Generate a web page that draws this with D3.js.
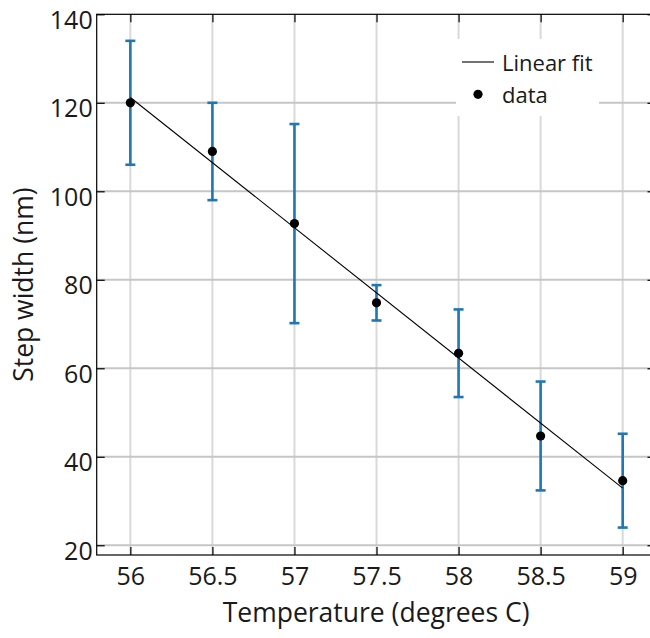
<!DOCTYPE html>
<html>
<head>
<meta charset="utf-8">
<script src="https://cdn.jsdelivr.net/npm/d3@7"></script>
<style>
  html, body { margin: 0; padding: 0; background: #fff; }
  svg { display: block; font-family: "Open Sans", sans-serif; }
</style>
</head>
<body>
<svg id="chart" width="650" height="638"></svg>
<script>
// Measured step widths with their uncertainties at each temperature
const temperatures = [56, 56.5, 57, 57.5, 58, 58.5, 59];
const stepWidths   = [120, 109, 92.7, 74.8, 63.4, 44.7, 34.6];
const stepErrors   = [14, 11, 22.5, 4, 9.9, 12.3, 10.6];

// Linear fit evaluated at the ends of the temperature range
const fitTemps  = [56, 59];
const fitWidths = [121.2, 32.9];

const xTicks = [56, 56.5, 57, 57.5, 58, 58.5, 59];
const yTicks = [20, 40, 60, 80, 100, 120, 140];
const legendLabels = ["Linear fit", "data"];

const xTitle = "Temperature (degrees C)";
const yTitle = "Step width (nm)";

const svg = d3.select("#chart");

const plot = { left: 96.7, right: 655.5, top: 14.3, bottom: 555 };

const x = d3.scaleLinear().domain([55.795, 59.2]).range([plot.left, plot.right]);
const y = d3.scaleLinear().domain([17.8, 140]).range([plot.bottom, plot.top]);

const fmt = d => String(d);

// Grid
const grid = svg.append("g");
grid.selectAll("line.vg").data(xTicks).join("line")
  .attr("x1", d => x(d)).attr("x2", d => x(d))
  .attr("y1", plot.top).attr("y2", plot.bottom)
  .attr("stroke", "#d9d9d9").attr("stroke-width", 2);
grid.selectAll("line.hg").data(yTicks.filter(d => d < 140)).join("line")
  .attr("x1", plot.left).attr("x2", plot.right)
  .attr("y1", d => y(d)).attr("y2", d => y(d))
  .attr("stroke", "#c6c6c6").attr("stroke-width", 2);

// Legend background sits over the grid
const legend = svg.append("g");
legend.append("rect")
  .attr("x", 456).attr("y", 39).attr("width", 143).attr("height", 77)
  .attr("fill", "#fff");

// Axes with inward ticks on all four sides
const axisStyle = g => {
  g.selectAll(".domain").remove();
  g.selectAll(".tick line").attr("stroke", "#000").attr("stroke-width", 1.2);
  g.selectAll(".tick text").attr("fill", "#1a1a1a").attr("font-size", 25)
    .attr("font-family", "Open Sans, sans-serif");
};

svg.append("g").attr("transform", `translate(0,${plot.bottom})`)
  .call(d3.axisBottom(x).tickValues(xTicks).tickFormat(fmt).tickSize(-8).tickPadding(12))
  .call(axisStyle);
svg.append("g").attr("transform", `translate(0,${plot.top})`)
  .call(d3.axisTop(x).tickValues(xTicks).tickFormat("").tickSize(-8))
  .call(axisStyle);
svg.append("g").attr("transform", `translate(${plot.left},0)`)
  .call(d3.axisLeft(y).tickValues(yTicks).tickFormat(fmt).tickSize(-8).tickPadding(4))
  .call(axisStyle)
  .call(g => g.selectAll(".tick text").attr("dy", "0.56em"));
svg.append("g").attr("transform", `translate(${plot.right},0)`)
  .call(d3.axisRight(y).tickValues(yTicks).tickFormat("").tickSize(-8))
  .call(axisStyle);

// Frame
svg.append("rect")
  .attr("x", plot.left).attr("y", plot.top)
  .attr("width", plot.right - plot.left).attr("height", plot.bottom - plot.top)
  .attr("fill", "none").attr("stroke", "#000").attr("stroke-width", 1.2);

// Error bars
const points = temperatures.map((t, i) => ({ t, w: stepWidths[i], e: stepErrors[i] }));
const eb = svg.append("g").attr("stroke", "#1f77b4").attr("stroke-width", 2.6);
eb.selectAll("line.bar").data(points).join("line")
  .attr("x1", d => x(d.t)).attr("x2", d => x(d.t))
  .attr("y1", d => y(d.w - d.e)).attr("y2", d => y(d.w + d.e));
eb.selectAll("line.capTop").data(points).join("line")
  .attr("x1", d => x(d.t) - 5).attr("x2", d => x(d.t) + 5)
  .attr("y1", d => y(d.w + d.e)).attr("y2", d => y(d.w + d.e));
eb.selectAll("line.capBot").data(points).join("line")
  .attr("x1", d => x(d.t) - 5).attr("x2", d => x(d.t) + 5)
  .attr("y1", d => y(d.w - d.e)).attr("y2", d => y(d.w - d.e));

// Fit line
const fitData = fitTemps.map((t, i) => [t, fitWidths[i]]);
svg.append("path")
  .datum(fitData)
  .attr("d", d3.line().x(d => x(d[0])).y(d => y(d[1])))
  .attr("fill", "none").attr("stroke", "#000").attr("stroke-width", 1.1);

// Data points
svg.append("g").selectAll("circle").data(points).join("circle")
  .attr("cx", d => x(d.t)).attr("cy", d => y(d.w)).attr("r", 4.6)
  .attr("fill", "#000");

// Legend entries
legend.append("line")
  .attr("x1", 462).attr("x2", 494).attr("y1", 62).attr("y2", 62)
  .attr("stroke", "#000").attr("stroke-width", 1.1);
legend.append("circle").attr("cx", 478).attr("cy", 94.3).attr("r", 4.6).attr("fill", "#000");
legend.selectAll("text").data(legendLabels).join("text")
  .attr("x", 502).attr("y", (d, i) => 71 + i * 32)
  .attr("font-size", 22).attr("fill", "#1a1a1a")
  .text(d => d);

// Axis titles
svg.append("text")
  .attr("x", (plot.left + plot.right) / 2).attr("y", 621.5)
  .attr("text-anchor", "middle").attr("font-size", 26.5).attr("fill", "#1a1a1a")
  .text(xTitle);
svg.append("text")
  .attr("transform", `translate(32.5,${(plot.top + plot.bottom) / 2}) rotate(-90)`)
  .attr("text-anchor", "middle").attr("font-size", 26.5).attr("fill", "#1a1a1a")
  .text(yTitle);
</script>
</body>
</html>
